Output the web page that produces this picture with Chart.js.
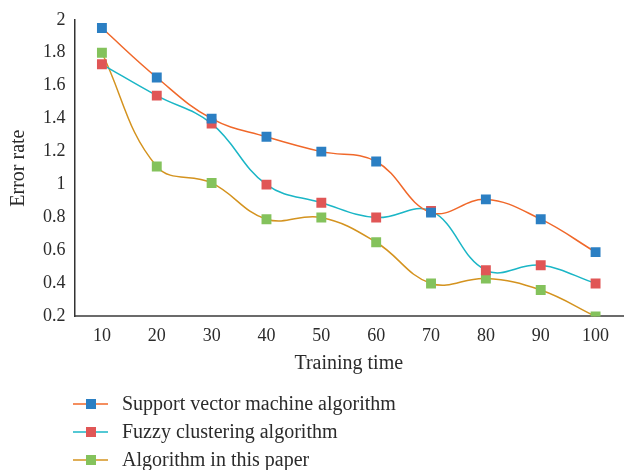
<!DOCTYPE html>
<html>
<head>
<meta charset="utf-8">
<script src="https://cdn.jsdelivr.net/npm/chart.js@4"></script>
<style>
  html, body { margin: 0; padding: 0; background: #fff; }
  #wrap { width: 630px; height: 470px; }
</style>
</head>
<body>
<div id="wrap"><canvas id="errChart" width="630" height="470"></canvas></div>
<script>
// ----- data -----
const TRAINING_TIME = ['10', '20', '30', '40', '50', '60', '70', '80', '90', '100'];
const SVM_ERR   = [1.95, 1.65, 1.40, 1.29, 1.20, 1.14, 0.83, 0.91, 0.79, 0.59];
const FUZZY_ERR = [1.73, 1.54, 1.37, 1.00, 0.89, 0.80, 0.84, 0.48, 0.51, 0.40];
const PAPER_ERR = [1.80, 1.11, 1.01, 0.79, 0.80, 0.65, 0.40, 0.43, 0.36, 0.20];
const SERIES_NAMES = ['Support vector machine algorithm', 'Fuzzy clustering algorithm', 'Algorithm in this paper'];

const FONT = '"Liberation Serif", "DejaVu Serif", serif';
const TEXT = '#2b2b2b';

const series = (label, data, line, mark) => ({
  label, data,
  borderColor: line,
  borderWidth: 1.5,
  backgroundColor: mark,
  pointBackgroundColor: mark,
  pointBorderColor: mark,
  pointBorderWidth: 0,
  pointStyle: 'rect',
  pointRadius: 7,
  pointHoverRadius: 7,
  tension: 0.4,
  fill: false,
});

// legend drawn under the axes: line sample + square marker, one row each
const stackedLegend = {
  id: 'stackedLegend',
  afterDraw(chart) {
    const ctx = chart.ctx;
    ctx.save();
    ctx.font = '20px ' + FONT;
    ctx.textBaseline = 'middle';
    chart.data.datasets.forEach((ds, i) => {
      const y = 404 + i * 28;
      ctx.strokeStyle = ds.borderColor;
      ctx.lineWidth = 1.5;
      ctx.beginPath();
      ctx.moveTo(73, y);
      ctx.lineTo(108, y);
      ctx.stroke();
      ctx.fillStyle = ds.pointBackgroundColor;
      ctx.fillRect(86, y - 5, 10, 10);
      ctx.fillStyle = TEXT;
      ctx.fillText(ds.label, 122, y + 1);
    });
    ctx.restore();
  }
};

new Chart(document.getElementById('errChart'), {
  type: 'line',
  data: {
    labels: TRAINING_TIME,
    datasets: [
      series(SERIES_NAMES[0], SVM_ERR, '#f0682a', '#2b7fc3'),
      series(SERIES_NAMES[1], FUZZY_ERR, '#1bb6c6', '#e05656'),
      series(SERIES_NAMES[2], PAPER_ERR, '#d4931f', '#84c25c'),
    ]
  },
  options: {
    responsive: false,
    animation: false,
    layout: { padding: { left: 7, right: 4, top: 17, bottom: 96 } },
    plugins: {
      legend: { display: false },
      tooltip: { enabled: false }
    },
    scales: {
      x: {
        offset: true,
        grid: { display: false, drawTicks: false },
        border: { display: true, color: '#6b6b6b', width: 2 },
        ticks: { color: TEXT, font: { family: FONT, size: 18 }, padding: 9, maxRotation: 0 },
        title: { display: true, text: 'Training time', color: TEXT, font: { family: FONT, size: 20, lineHeight: 1 }, padding: { top: -2, bottom: 0 } }
      },
      y: {
        min: 0.2,
        max: 2,
        grid: { display: false, drawTicks: false },
        border: { display: true, color: '#333', width: 1.5 },
        ticks: {
          stepSize: 0.2,
          color: TEXT,
          font: { family: FONT, size: 18 },
          padding: 9,
          callback: v => String(Number(v.toFixed(1)))
        },
        title: { display: true, text: 'Error rate', color: TEXT, font: { family: FONT, size: 20 }, padding: { top: 0, bottom: 3 } }
      }
    }
  },
  plugins: [stackedLegend]
});
</script>
</body>
</html>
